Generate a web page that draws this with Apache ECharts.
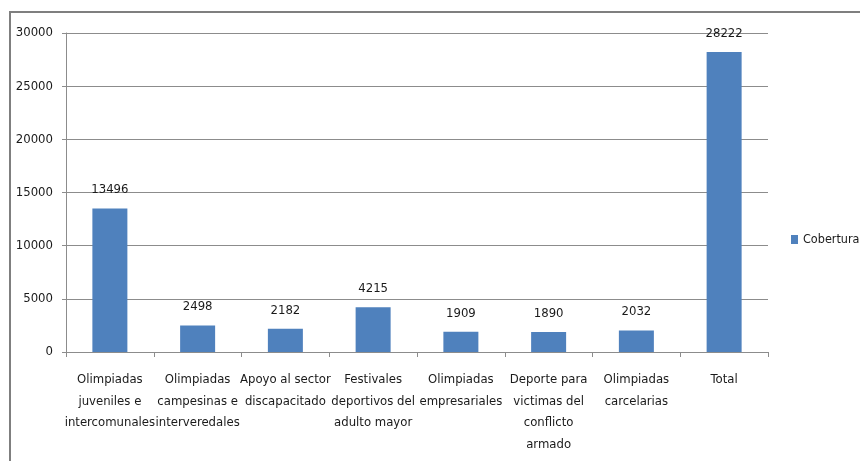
<!DOCTYPE html>
<html>
<head>
<meta charset="utf-8">
<script src="https://cdn.jsdelivr.net/npm/echarts@6/dist/echarts.min.js"></script>
<style>
  html, body { margin: 0; padding: 0; background: #fff; }
  #chart { width: 860px; height: 461px; }
</style>
</head>
<body>
<div id="chart"></div>
<script>
// categorias (con saltos de linea como en la imagen)
const categories = [
  'Olimpiadas\njuveniles e\nintercomunales',
  'Olimpiadas\ncampesinas e\ninterveredales',
  'Apoyo al sector\ndiscapacitado',
  'Festivales\ndeportivos del\nadulto mayor',
  'Olimpiadas\nempresariales',
  'Deporte para\nvictimas del\nconflicto\narmado',
  'Olimpiadas\ncarcelarias',
  'Total'
];
const cobertura = [13496, 2498, 2182, 4215, 1909, 1890, 2032, 28222];
const seriesName = 'Cobertura';

const font = "'DejaVu Sans Condensed', 'Liberation Sans Narrow', sans-serif";
const gridColor = '#8c8c8c';
const txt = '#1a1a1a';

const chart = echarts.init(document.getElementById('chart'));
chart.setOption({
  animation: false,
  textStyle: { fontFamily: font },
  grid: { left: 66, right: 92, top: 33, bottom: 109, containLabel: false },
  legend: {
    data: [seriesName],
    left: 791,
    top: 233,
    padding: 0,
    itemWidth: 7,
    itemHeight: 9,
    icon: 'rect',
    textStyle: { fontFamily: font, fontSize: 12.5, color: txt }
  },
  xAxis: {
    type: 'category',
    data: categories,
    axisLine: { lineStyle: { color: gridColor, width: 1 } },
    axisTick: { show: true, length: 5, lineStyle: { color: gridColor } },
    axisLabel: {
      interval: 0,
      margin: 17,
      fontFamily: font,
      fontSize: 13,
      lineHeight: 21.5,
      color: txt
    }
  },
  yAxis: {
    type: 'value',
    min: 0,
    max: 30000,
    interval: 5000,
    axisLine: { show: true, lineStyle: { color: gridColor, width: 1 } },
    axisTick: { show: true, length: 4, lineStyle: { color: gridColor } },
    splitLine: { lineStyle: { color: gridColor, width: 1 } },
    axisLabel: {
      margin: 13,
      fontFamily: font,
      fontSize: 13,
      color: txt,
      formatter: v => String(v)
    }
  },
  series: [{
    name: seriesName,
    type: 'bar',
    data: cobertura,
    barWidth: 35,
    itemStyle: { color: '#4F81BD' },
    label: {
      show: true,
      position: 'top',
      distance: 12,
      fontFamily: font,
      fontSize: 13,
      color: txt
    }
  }],
  graphic: [{
    type: 'polyline',
    shape: { points: [[10, 461], [10, 12], [860, 12]] },
    style: { stroke: '#7f7f7f', lineWidth: 2, fill: null },
    silent: true
  }]
});
</script>
</body>
</html>
